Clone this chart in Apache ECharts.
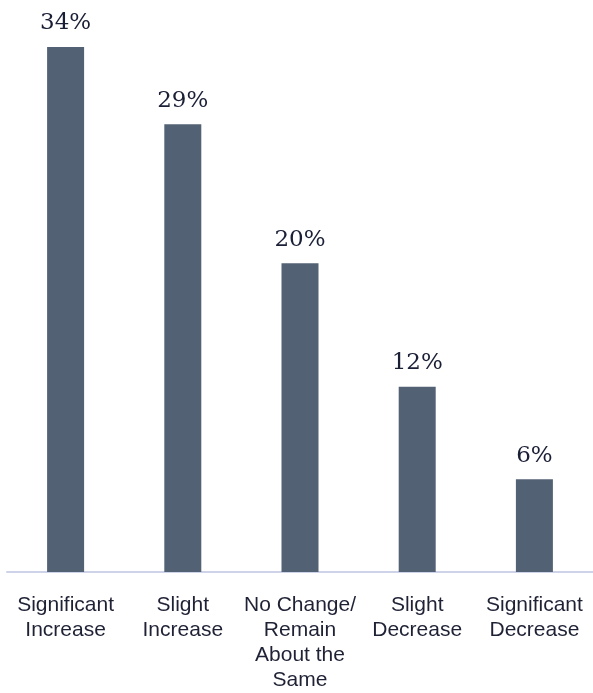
<!DOCTYPE html>
<html>
<head>
<meta charset="utf-8">
<script src="https://cdn.jsdelivr.net/npm/echarts@6/dist/echarts.min.js"></script>
<style>
html,body{margin:0;padding:0;background:#fff;}
#chart{width:593px;height:693px;}
</style>
</head>
<body>
<div id="chart"></div>
<script>
const categories = ["Significant\nIncrease", "Slight\nIncrease", "No Change/\nRemain\nAbout the\nSame", "Slight\nDecrease", "Significant\nDecrease"];
const values = [34, 29, 20, 12, 6];

const chart = echarts.init(document.getElementById('chart'));
chart.setOption({
  animation: false,
  grid: {left: 7, right: 0, top: 47, bottom: 121, containLabel: false},
  xAxis: {
    type: 'category',
    data: categories,
    axisLine: {lineStyle: {color: '#cfd3ea', width: 2}},
    axisTick: {show: false},
    axisLabel: {
      interval: 0,
      margin: 21,
      fontFamily: 'Liberation Sans, Arial, sans-serif',
      fontSize: 21,
      lineHeight: 25,
      color: '#1f2235'
    }
  },
  yAxis: {
    type: 'value',
    min: 0,
    max: 34,
    show: false,
    splitLine: {show: false}
  },
  series: [{
    type: 'bar',
    data: values,
    barWidth: 37,
    itemStyle: {color: '#536175'},
    label: {
      show: true,
      position: 'top',
      distance: 12,
      formatter: '{c}%',
      fontFamily: 'DejaVu Serif, serif',
      fontSize: 23,
      color: '#1a1f36'
    }
  }]
});
</script>
</body>
</html>
